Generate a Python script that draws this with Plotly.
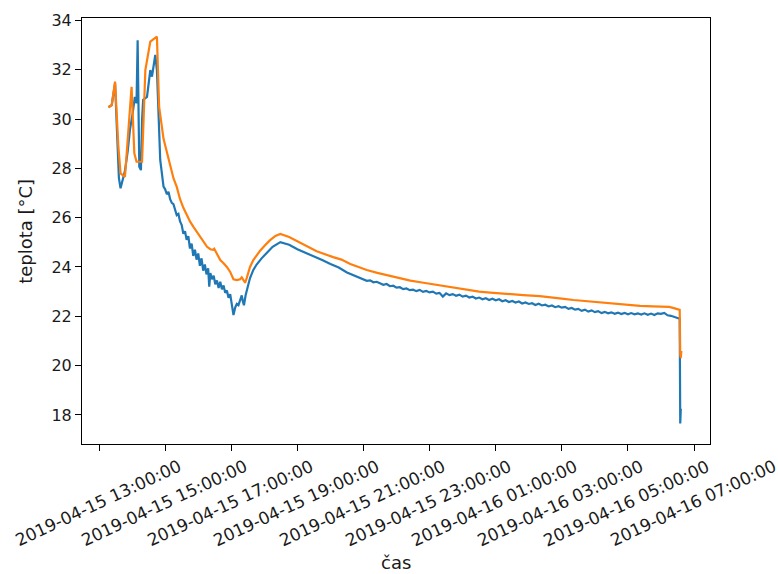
import plotly.graph_objects as go

# ---------------- data ----------------
blue_hm = [
    "13:17", "13:23", "13:29", "13:33", "13:36", "13:39", "13:42", "13:47", "13:52", "13:56",
    "14:01", "14:05", "14:08", "14:10", "14:13", "14:16", "14:18", "14:20", "14:27", "14:30",
    "14:33", "14:36", "14:39", "14:42", "14:45", "14:48", "14:51", "14:57", "15:00", "15:03",
    "15:06", "15:09", "15:12", "15:15", "15:18", "15:21", "15:24", "15:27", "15:30", "15:33",
    "15:36", "15:39", "15:42", "15:45", "15:48", "15:51", "15:54", "15:57", "16:00", "16:03",
    "16:06", "16:09", "16:12", "16:15", "16:18", "16:20", "16:22", "16:25", "16:28", "16:31",
    "16:34", "16:37", "16:40", "16:43", "16:46", "16:49", "16:52", "16:55", "16:58", "17:01",
    "17:04", "17:07", "17:10", "17:13", "17:16", "17:19", "17:21", "17:23", "17:26", "17:28",
    "17:31", "17:34", "17:40", "17:46", "17:55", "18:04", "18:15", "18:29", "18:45", "19:00",
    "19:15", "19:30", "19:45", "20:00", "20:15", "20:30",
    "20:36", "20:42", "20:48", "20:54", "21:00", "21:06", "21:12", "21:18", "21:24", "21:30",
    "21:36", "21:42", "21:48", "21:54", "22:00", "22:06", "22:12", "22:18", "22:24", "22:30",
    "22:36", "22:42", "22:48", "22:54", "23:00", "23:06", "23:12", "23:18", "23:24", "23:30",
    "23:36", "23:42", "23:48", "23:54", "00:00", "00:06", "00:12", "00:18", "00:24", "00:30",
    "00:36", "00:42", "00:48", "00:54", "01:00", "01:06", "01:12", "01:18", "01:24", "01:30",
    "01:36", "01:42", "01:48", "01:54", "02:00", "02:06", "02:12", "02:18", "02:24", "02:30",
    "02:36", "02:42", "02:48", "02:54", "03:00", "03:06", "03:12", "03:18", "03:24", "03:30",
    "03:36", "03:42", "03:48", "03:54", "04:00", "04:06", "04:12", "04:18", "04:24", "04:30",
    "04:36", "04:42", "04:48", "04:54", "05:00", "05:06", "05:12", "05:18", "05:24", "05:30",
    "05:36", "05:42", "05:48", "05:54", "06:00", "06:06", "06:12", "06:18", "06:24", "06:30",
    "06:34", "06:35", "06:36",
]
blue_temp = [
    30.48, 30.57, 31.45, 29.2, 27.6, 27.19, 27.45, 27.9, 28.7, 29.56,
    30.24, 30.9, 30.64, 33.2, 28.07, 27.93, 29.96, 30.78, 30.9, 31.59,
    31.99, 31.72, 32.13, 32.6, 31.99, 29.96, 28.34, 27.26, 27.15, 26.95,
    27.05, 26.75, 26.6, 26.55, 26.3, 26.1, 26.15, 25.85, 25.7, 25.35,
    25.45, 25.1, 25.25, 24.75, 24.95, 24.45, 24.7, 24.3, 24.55, 24.05,
    24.35, 23.85, 24.1, 23.7, 23.95, 23.2, 23.75, 23.5, 23.65, 23.3,
    23.45, 23.15, 23.4, 23.1, 23.25, 22.95, 23.05, 22.75, 22.9, 22.5,
    22.05, 22.35, 22.5, 22.45, 22.7, 22.85, 22.6, 22.45, 22.85, 23.0,
    23.3, 23.55, 23.88, 24.1, 24.35, 24.58, 24.82, 25.01, 24.9, 24.72,
    24.58, 24.42, 24.28, 24.12, 23.98, 23.78,
    23.72, 23.66, 23.63, 23.55, 23.5, 23.44, 23.46, 23.38, 23.4, 23.33,
    23.28, 23.31, 23.22, 23.24, 23.16, 23.18, 23.1, 23.13, 23.06, 23.08,
    23.02, 23.07, 22.99, 23.03, 22.97, 23.0, 22.92, 22.95, 22.8, 22.93,
    22.86, 22.9, 22.83, 22.88, 22.8, 22.84, 22.76, 22.8, 22.72, 22.76,
    22.69, 22.73, 22.66, 22.71, 22.65, 22.69, 22.61, 22.65, 22.58, 22.62,
    22.56, 22.6, 22.52, 22.56, 22.5, 22.53, 22.46, 22.51, 22.44, 22.47,
    22.4, 22.44, 22.37, 22.41, 22.35, 22.38, 22.3, 22.34, 22.27, 22.3,
    22.22, 22.27, 22.19, 22.24, 22.17, 22.21, 22.13, 22.18, 22.12, 22.16,
    22.1, 22.15, 22.09, 22.14, 22.08, 22.13, 22.08, 22.12, 22.07, 22.12,
    22.06, 22.11, 22.05, 22.12, 22.1, 22.14, 22.04, 22.02, 21.97, 21.93,
    21.9, 17.65, 18.25,
]

orange_hm = [
    "13:17", "13:23", "13:29", "13:35", "13:39", "13:47", "13:59", "14:04", "14:08", "14:18",
    "14:24", "14:33", "14:45", "14:49", "14:57", "15:03", "15:09", "15:15", "15:21", "15:27",
    "15:33", "15:39", "15:45", "15:51", "15:57", "16:03", "16:10", "16:16", "16:22", "16:27",
    "16:29", "16:34", "16:40", "16:46", "16:52", "16:58", "17:04", "17:10", "17:16", "17:19",
    "17:22", "17:25", "17:28", "17:34", "17:40", "17:46", "17:52", "18:00", "18:10", "18:20",
    "18:29", "18:45", "19:05", "19:20", "19:35", "20:05", "20:20", "20:36", "20:50", "21:06",
    "21:25", "21:48", "22:06", "22:25", "22:49", "23:10", "23:30", "23:49", "00:10", "00:30",
    "00:50", "01:10", "01:30", "01:50", "02:20", "02:39", "03:00", "03:21", "03:50", "04:22",
    "04:50", "05:22", "05:45", "06:04", "06:15", "06:25", "06:34", "06:35", "06:36", "06:37",
]
orange_temp = [
    30.48, 30.57, 31.52, 28.88, 27.8, 27.66, 31.31, 28.61, 28.27, 28.27,
    31.99, 33.14, 33.34, 30.5, 29.2, 28.65, 28.2, 27.6, 27.25, 26.75,
    26.4, 26.1, 25.85, 25.64, 25.45, 25.23, 25.0, 24.82, 24.72, 24.7,
    24.74, 24.5, 24.28, 24.15, 24.0, 23.8, 23.5, 23.47, 23.5, 23.58,
    23.45, 23.36, 23.55, 24.0, 24.28, 24.48, 24.65, 24.85, 25.08, 25.26,
    25.34, 25.22, 24.98, 24.82, 24.64, 24.4, 24.3, 24.12, 24.0, 23.88,
    23.76, 23.64, 23.55, 23.45, 23.36, 23.28, 23.2, 23.14, 23.06, 23.0,
    22.96, 22.92, 22.9, 22.86, 22.82, 22.76, 22.72, 22.66, 22.6, 22.53,
    22.48, 22.42, 22.4, 22.37, 22.38, 22.32, 22.26, 20.45, 20.3, 20.6,
]

x_ticks = [
    "2019-04-15 13:00:00", "2019-04-15 15:00:00", "2019-04-15 17:00:00",
    "2019-04-15 19:00:00", "2019-04-15 21:00:00", "2019-04-15 23:00:00",
    "2019-04-16 01:00:00", "2019-04-16 03:00:00", "2019-04-16 05:00:00",
    "2019-04-16 07:00:00",
]
y_ticks = [18, 20, 22, 24, 26, 28, 30, 32, 34]


def stamp(hm):
    day = "2019-04-16" if int(hm[:2]) < 12 else "2019-04-15"
    return f"{day} {hm}"


blue_t = [stamp(h) for h in blue_hm]
orange_t = [stamp(h) for h in orange_hm]

FONT = "DejaVu Sans"
TXT = "#1a1a1a"

fig = go.Figure()
fig.add_trace(go.Scatter(x=blue_t, y=blue_temp, mode="lines",
                         line=dict(color="#1f77b4", width=2.2)))
fig.add_trace(go.Scatter(x=orange_t, y=orange_temp, mode="lines",
                         line=dict(color="#ff7f0e", width=2.2)))

annotations = []
for tv in x_ticks:
    annotations.append(dict(
        x=tv, xref="x", y=-0.139, yref="paper", text=tv, textangle=-25,
        showarrow=False, xanchor="center", yanchor="middle", xshift=-1,
        font=dict(family=FONT, size=17, color=TXT),
    ))
annotations.append(dict(
    x=0.5, xref="paper", y=-0.279, yref="paper", text="čas", showarrow=False,
    xanchor="center", yanchor="middle", font=dict(family=FONT, size=18, color=TXT),
))
annotations.append(dict(
    x=-0.091, xref="paper", y=0.5, yref="paper", text="teplota [°C]", textangle=-90,
    showarrow=False, xanchor="center", yanchor="middle",
    font=dict(family=FONT, size=18, color=TXT),
))

fig.update_layout(
    width=778, height=574,
    margin=dict(l=82, r=68, t=18, b=130),
    paper_bgcolor="white", plot_bgcolor="white",
    showlegend=False,
    font=dict(family=FONT, size=16, color=TXT),
    annotations=annotations,
    xaxis=dict(
        type="date", range=["2019-04-15 12:29:00", "2019-04-16 07:29:00"],
        tickvals=x_ticks, showticklabels=False,
        ticks="outside", ticklen=6, tickwidth=1, tickcolor="black",
        showline=True, linecolor="black", linewidth=1, mirror=True,
        showgrid=False, zeroline=False,
    ),
    yaxis=dict(
        range=[16.82, 34.1], tickvals=y_ticks,
        ticks="outside", ticklen=6, tickwidth=1, tickcolor="black",
        tickfont=dict(family=FONT, size=16, color=TXT),
        showline=True, linecolor="black", linewidth=1, mirror=True,
        showgrid=False, zeroline=False,
    ),
)

fig.write_html("out.html")
